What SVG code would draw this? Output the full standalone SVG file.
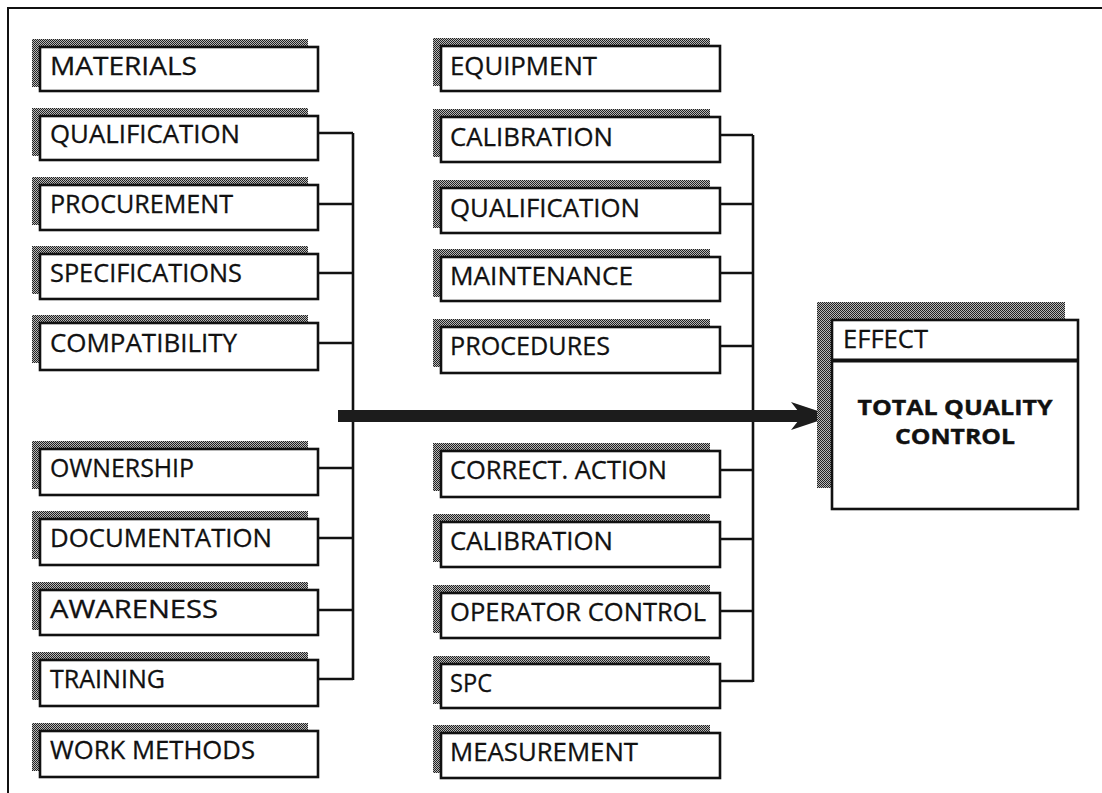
<svg xmlns="http://www.w3.org/2000/svg" width="1102" height="793" viewBox="0 0 1102 793">
<defs>
<pattern id="dots" width="2" height="2" patternUnits="userSpaceOnUse">
<rect width="2" height="2" fill="#b8b8b8"/>
<rect width="1" height="1" fill="#222"/>
<rect x="1" y="1" width="1" height="1" fill="#222"/>
</pattern>
<style>
.sh{fill:url(#dots);stroke:none}
.fr{fill:#fff;stroke:#111;stroke-width:2.6}
.t{font-family:"Open Sans","Noto Sans","Liberation Sans",sans-serif;font-size:25px;fill:#111;stroke:#111;stroke-width:0.3}
.tb{font-family:"Open Sans","Noto Sans","Liberation Sans",sans-serif;font-size:22px;font-weight:bold;fill:#111;stroke:#111;stroke-width:0.4}
.c{fill:none;stroke:#111;stroke-width:2.6}
</style>
</defs>
<rect width="1102" height="793" fill="#fff"/>
<path d="M8,793 V8 H1102" fill="none" stroke="#111" stroke-width="2"/>

<g id="n-materials"><rect class="sh" x="32" y="39" width="276" height="48"/><rect class="fr" x="40" y="47" width="278" height="44"/><text class="t" x="50" y="75" textLength="147" lengthAdjust="spacingAndGlyphs">MATERIALS</text></g>
<g id="n-qualification-1"><rect class="sh" x="32" y="108" width="276" height="48"/><rect class="fr" x="40" y="116" width="278" height="44"/><text class="t" x="50" y="143" textLength="190" lengthAdjust="spacingAndGlyphs">QUALIFICATION</text></g>
<g id="n-procurement"><rect class="sh" x="32" y="177" width="276" height="48"/><rect class="fr" x="40" y="185" width="278" height="45"/><text class="t" x="50" y="213" textLength="183" lengthAdjust="spacingAndGlyphs">PROCUREMENT</text></g>
<g id="n-specifications"><rect class="sh" x="32" y="246" width="276" height="48"/><rect class="fr" x="40" y="254" width="278" height="45"/><text class="t" x="50" y="282" textLength="192" lengthAdjust="spacingAndGlyphs">SPECIFICATIONS</text></g>
<g id="n-compatibility"><rect class="sh" x="32" y="315" width="276" height="48"/><rect class="fr" x="40" y="323" width="278" height="47"/><text class="t" x="50" y="352" textLength="187" lengthAdjust="spacingAndGlyphs">COMPATIBILITY</text></g>
<g id="n-ownership"><rect class="sh" x="32" y="441" width="276" height="48"/><rect class="fr" x="40" y="449" width="278" height="46"/><text class="t" x="50" y="477" textLength="144" lengthAdjust="spacingAndGlyphs">OWNERSHIP</text></g>
<g id="n-documentation"><rect class="sh" x="32" y="511" width="276" height="48"/><rect class="fr" x="40" y="519" width="278" height="46"/><text class="t" x="50" y="547" textLength="222" lengthAdjust="spacingAndGlyphs">DOCUMENTATION</text></g>
<g id="n-awareness"><rect class="sh" x="32" y="582" width="276" height="48"/><rect class="fr" x="40" y="590" width="278" height="45"/><text class="t" x="50" y="618" textLength="168" lengthAdjust="spacingAndGlyphs">AWARENESS</text></g>
<g id="n-training"><rect class="sh" x="32" y="652" width="276" height="48"/><rect class="fr" x="40" y="660" width="278" height="46"/><text class="t" x="50" y="688" textLength="115" lengthAdjust="spacingAndGlyphs">TRAINING</text></g>
<g id="n-work-methods"><rect class="sh" x="32" y="723" width="276" height="48"/><rect class="fr" x="40" y="731" width="278" height="46"/><text class="t" x="50" y="759" textLength="205" lengthAdjust="spacingAndGlyphs">WORK METHODS</text></g>

<g id="n-equipment"><rect class="sh" x="433" y="38" width="277" height="48"/><rect class="fr" x="441" y="46" width="279" height="45"/><text class="t" x="450" y="75" textLength="147" lengthAdjust="spacingAndGlyphs">EQUIPMENT</text></g>
<g id="n-calibration-1"><rect class="sh" x="433" y="109" width="277" height="48"/><rect class="fr" x="441" y="117" width="279" height="45"/><text class="t" x="450" y="146" textLength="163" lengthAdjust="spacingAndGlyphs">CALIBRATION</text></g>
<g id="n-qualification-2"><rect class="sh" x="433" y="180" width="277" height="48"/><rect class="fr" x="441" y="188" width="279" height="45"/><text class="t" x="450" y="217" textLength="190" lengthAdjust="spacingAndGlyphs">QUALIFICATION</text></g>
<g id="n-maintenance"><rect class="sh" x="433" y="249" width="277" height="48"/><rect class="fr" x="441" y="257" width="279" height="44"/><text class="t" x="450" y="285" textLength="183" lengthAdjust="spacingAndGlyphs">MAINTENANCE</text></g>
<g id="n-procedures"><rect class="sh" x="433" y="319" width="277" height="48"/><rect class="fr" x="441" y="327" width="279" height="46"/><text class="t" x="450" y="355" textLength="160" lengthAdjust="spacingAndGlyphs">PROCEDURES</text></g>
<g id="n-correct-action"><rect class="sh" x="433" y="443" width="277" height="48"/><rect class="fr" x="441" y="451" width="279" height="46"/><text class="t" x="450" y="479" textLength="217" lengthAdjust="spacingAndGlyphs">CORRECT. ACTION</text></g>
<g id="n-calibration-2"><rect class="sh" x="433" y="514" width="277" height="48"/><rect class="fr" x="441" y="522" width="279" height="45"/><text class="t" x="450" y="550" textLength="163" lengthAdjust="spacingAndGlyphs">CALIBRATION</text></g>
<g id="n-operator-control"><rect class="sh" x="433" y="585" width="277" height="48"/><rect class="fr" x="441" y="593" width="279" height="45"/><text class="t" x="450" y="621" textLength="256" lengthAdjust="spacingAndGlyphs">OPERATOR CONTROL</text></g>
<g id="n-spc"><rect class="sh" x="433" y="656" width="277" height="48"/><rect class="fr" x="441" y="664" width="279" height="44"/><text class="t" x="450" y="692" textLength="42" lengthAdjust="spacingAndGlyphs">SPC</text></g>
<g id="n-measurement"><rect class="sh" x="433" y="725" width="277" height="48"/><rect class="fr" x="441" y="733" width="279" height="45"/><text class="t" x="450" y="761" textLength="188" lengthAdjust="spacingAndGlyphs">MEASUREMENT</text></g>

<g id="connectors">
<path class="c" d="M318,133 H353 M318,204 H353 M318,273 H353 M318,343 H353 M318,468 H353 M318,538 H353 M318,610 H353 M318,679 H353 M353,133 V680"/>
<path class="c" d="M720,135 H753 M720,204 H753 M720,273 H753 M720,346 H753 M720,470 H753 M720,539 H753 M720,611 H753 M720,681 H753 M753,135 V682"/>
<rect x="338" y="410" width="466" height="12" fill="#1c1c1c"/>
<polygon points="833,416 791,402 802,416 791,430" fill="#1c1c1c"/>
</g>

<g id="n-effect">
<rect class="sh" x="817" y="302" width="248" height="186"/>
<rect class="fr" x="832" y="320" width="246" height="189"/>
<line x1="832" y1="360.5" x2="1078" y2="360.5" stroke="#111" stroke-width="4"/>
<text class="t" x="843" y="348" textLength="85" lengthAdjust="spacingAndGlyphs">EFFECT</text>
<text class="tb" x="955" y="415" text-anchor="middle" textLength="195" lengthAdjust="spacingAndGlyphs">TOTAL QUALITY</text>
<text class="tb" x="955" y="444" text-anchor="middle" textLength="120" lengthAdjust="spacingAndGlyphs">CONTROL</text>
</g>
</svg>
